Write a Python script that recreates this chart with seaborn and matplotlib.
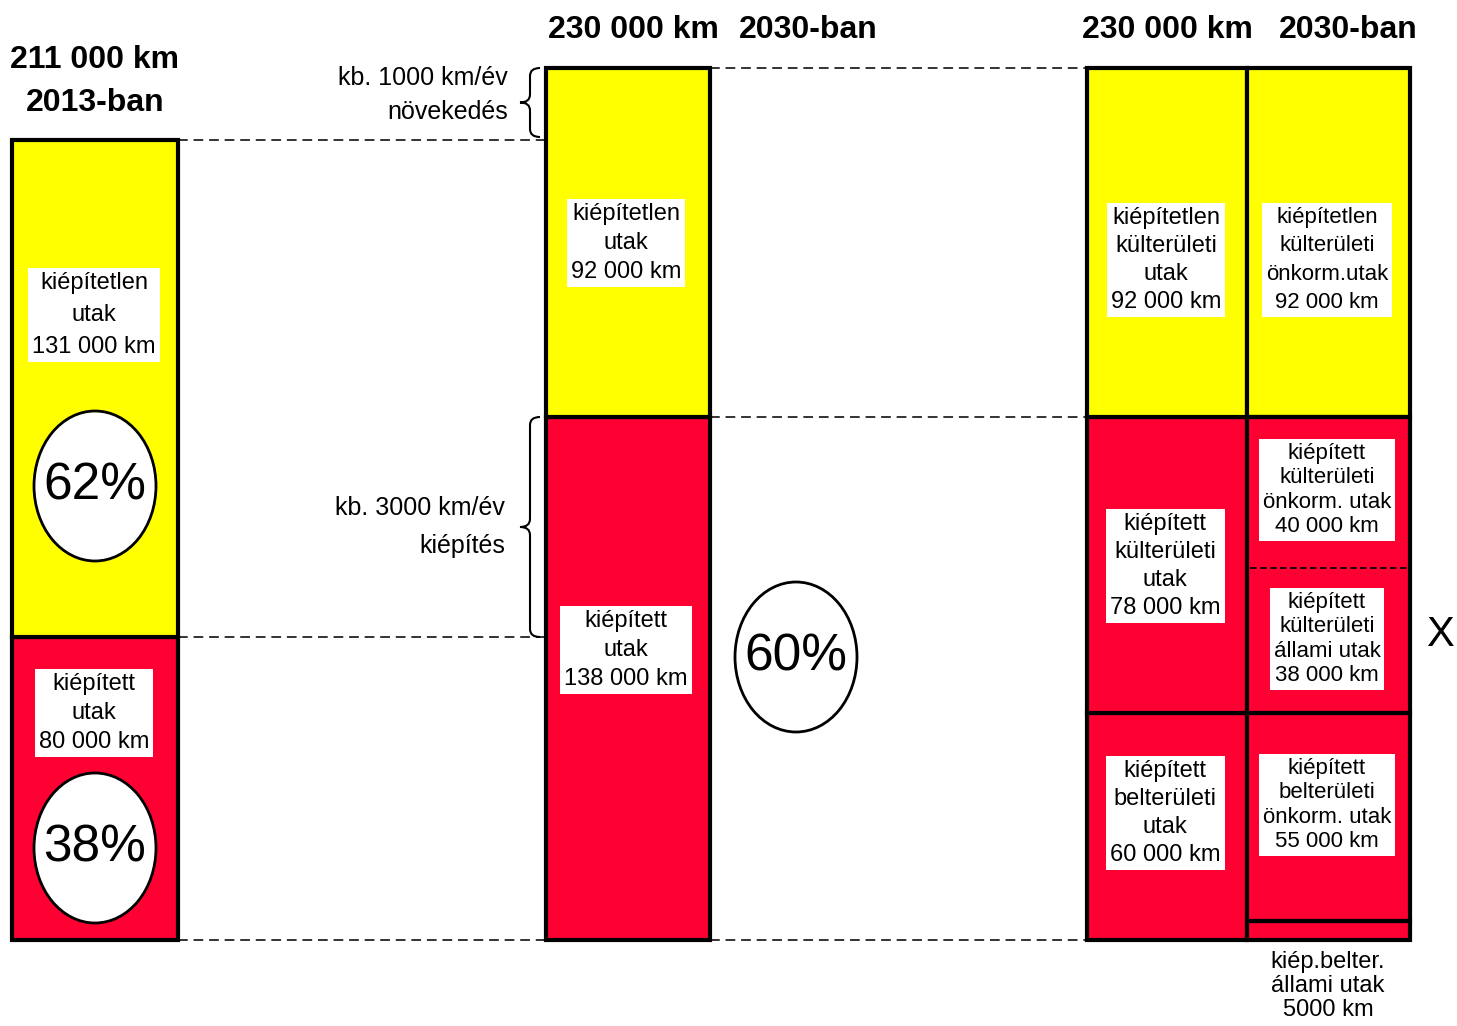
import numpy as np
import pandas as pd
import matplotlib
matplotlib.use("Agg")
import matplotlib.pyplot as plt
import seaborn as sns
from matplotlib.patches import Ellipse, PathPatch
from matplotlib.path import Path
from matplotlib import font_manager

# data (thousand km)
bar1_segments = [80, 131]          # kiépített, kiépítetlen (2013)
bar2_segments = [138, 92]          # 2030
bar3_segments = [60, 78, 92]       # belterületi, külterületi, kiépítetlen
bar4_segments = [5, 55, 38, 40, 92]
total_2013 = 211
total_2030 = 230
shares_2013 = ["38%", "62%"]
share_2030 = "60%"

bar1_labels = ["kiépített\nutak\n80 000 km", "kiépítetlen\nutak\n131 000 km"]
bar2_labels = ["kiépített\nutak\n138 000 km", "kiépítetlen\nutak\n92 000 km"]
bar3_labels = ["kiépített\nbelterületi\nutak\n60 000 km",
               "kiépített\nkülterületi\nutak\n78 000 km",
               "kiépítetlen\nkülterületi\nutak\n92 000 km"]
bar4_labels = ["kiép.belter.\nállami utak\n5000 km",
               "kiépített\nbelterületi\nönkorm. utak\n55 000 km",
               "kiépített\nkülterületi\nállami utak\n38 000 km",
               "kiépített\nkülterületi\nönkorm. utak\n40 000 km",
               "kiépítetlen\nkülterületi\nönkorm.utak\n92 000 km"]

sns.set_theme(style="white")
names = {f.name for f in font_manager.fontManager.ttflist}
narrow = "Liberation Sans Narrow" if "Liberation Sans Narrow" in names else "Liberation Sans"
plt.rcParams["font.family"] = [narrow, "DejaVu Sans"]
plt.rcParams["text.color"] = "black"

YELLOW = "#FFFF00"
RED = "#FF0033"

fig = plt.figure(figsize=(14.57, 10.26), dpi=100)
ax = fig.add_axes([0, 0, 1, 1])
PX = 3.791  # pixels per thousand km
ax.set_xlim(0, 1457)
ax.set_ylim((940 - 1026) / PX, 940 / PX)
ax.axis("off")


def ky(py):
    return (940 - py) / PX


def stack(x0, x1, segs, colors, lw=3.0):
    bottom = 0
    for s, c in zip(segs, colors):
        ax.bar((x0 + x1) / 2, s, width=x1 - x0, bottom=bottom, color=c,
               edgecolor="black", linewidth=lw, zorder=2)
        bottom += s


def label(x, py, txt, size=18, box=True, ls=1.25):
    kw = dict(ha="center", va="center", fontsize=size, linespacing=ls, zorder=5,
              color="black")
    if box:
        kw["bbox"] = dict(boxstyle="square,pad=0.18", fc="white", ec="none")
    ax.text(x, ky(py), txt, **kw)


def circle(x, py, txt):
    ax.add_patch(Ellipse((x, ky(py)), 122, 150 / PX, fc="white", ec="black",
                         lw=2, zorder=4))
    ax.text(x, ky(py), txt, ha="center", va="center", fontsize=37, zorder=5,
            color="black")


def brace(xs, top_py, bot_py):
    mid = (top_py + bot_py) / 2
    xc, xt, r = xs - 10, xs - 20, 8
    verts = [(xs, top_py), (xc, top_py), (xc, top_py + r),
             (xc, mid - r),
             (xc, mid), (xt, mid),
             (xc, mid), (xc, mid + r),
             (xc, bot_py - r),
             (xc, bot_py), (xs, bot_py)]
    codes = [Path.MOVETO, Path.CURVE3, Path.CURVE3, Path.LINETO,
             Path.CURVE3, Path.CURVE3, Path.CURVE3, Path.CURVE3,
             Path.LINETO, Path.CURVE3, Path.CURVE3]
    verts = [(vx, ky(vy)) for vx, vy in verts]
    ax.add_patch(PathPatch(Path(verts, codes), fc="none", ec="black", lw=1.5,
                           zorder=3))


def dash(x0, x1, y, lw=1.4):
    ax.plot([x0, x1], [y, y], color="#333333", lw=lw, ls=(0, (5, 3)), zorder=1)


# dashed guides
dash(178, 546, total_2013)
dash(178, 546, bar1_segments[0])
dash(178, 546, 0)
dash(710, 1087, total_2030)
dash(710, 1087, bar2_segments[0])
dash(710, 1087, 0)

# bars
stack(12, 178, bar1_segments, [RED, YELLOW])
stack(546, 710, bar2_segments, [RED, YELLOW])
stack(1087, 1247, bar3_segments, [RED, RED, YELLOW])

# bar 4: 38 + 40 share one frame, split by a thin dashed line
x0, x1 = 1247, 1410
cx = (x0 + x1) / 2
b = 0
for s in bar4_segments:
    c = YELLOW if s == bar4_segments[-1] else RED
    ax.bar(cx, s, width=x1 - x0, bottom=b, color=c, linewidth=0, zorder=2)
    b += s
frames = [bar4_segments[0], bar4_segments[1],
          bar4_segments[2] + bar4_segments[3], bar4_segments[4]]
b = 0
for s in frames:
    ax.bar(cx, s, width=x1 - x0, bottom=b, fill=False, edgecolor="black",
           linewidth=3.0, zorder=3)
    b += s
ysplit = sum(bar4_segments[:3])
ax.plot([x0 + 3, x1 - 3], [ysplit, ysplit], color="black", lw=1.2,
        ls=(0, (4, 2)), zorder=3)

# headers
ax.text(95, ky(60), f"{total_2013} 000 km", ha="center", va="center",
        fontsize=23, fontweight="bold")
ax.text(95, ky(103), "2013-ban", ha="center", va="center", fontsize=23,
        fontweight="bold")
for xk, xb in [(633, 808), (1167, 1348)]:
    ax.text(xk, ky(30), f"{total_2030} 000 km", ha="center", va="center",
            fontsize=23, fontweight="bold")
    ax.text(xb, ky(30), "2030-ban", ha="center", va="center", fontsize=23,
            fontweight="bold")

# braces and notes
brace(540, 68, 137)
brace(540, 417, 637)
ax.text(508, ky(95), "kb. 1000 km/év\nnövekedés", ha="right", va="center",
        fontsize=18, linespacing=1.55)
ax.text(505, ky(527), "kb. 3000 km/év\nkiépítés", ha="right", va="center",
        fontsize=18, linespacing=1.75)

# segment labels
label(94, 315, bar1_labels[1], size=17, ls=1.6)
label(94, 713, bar1_labels[0], size=17, ls=1.4)
label(626, 243, bar2_labels[1], size=17, ls=1.4)
label(626, 650, bar2_labels[0], size=17, ls=1.4)
label(1166, 260, bar3_labels[2], size=17, ls=1.35)
label(1165, 566, bar3_labels[1], size=17, ls=1.35)
label(1165, 813, bar3_labels[0], size=17, ls=1.35)
label(1327, 260, bar4_labels[4], size=16, ls=1.45)
label(1327, 490, bar4_labels[3], size=16, ls=1.2)
label(1327, 639, bar4_labels[2], size=16, ls=1.2)
label(1327, 805, bar4_labels[1], size=16, ls=1.2)
label(1328, 986, bar4_labels[0], size=17, ls=1.1, box=False)

circle(95, 486, shares_2013[1])
circle(95, 848, shares_2013[0])
circle(796, 657, share_2030)

ax.text(1440, ky(635), "X", ha="center", va="center", fontsize=30)

fig.savefig("out.png", dpi=100)
